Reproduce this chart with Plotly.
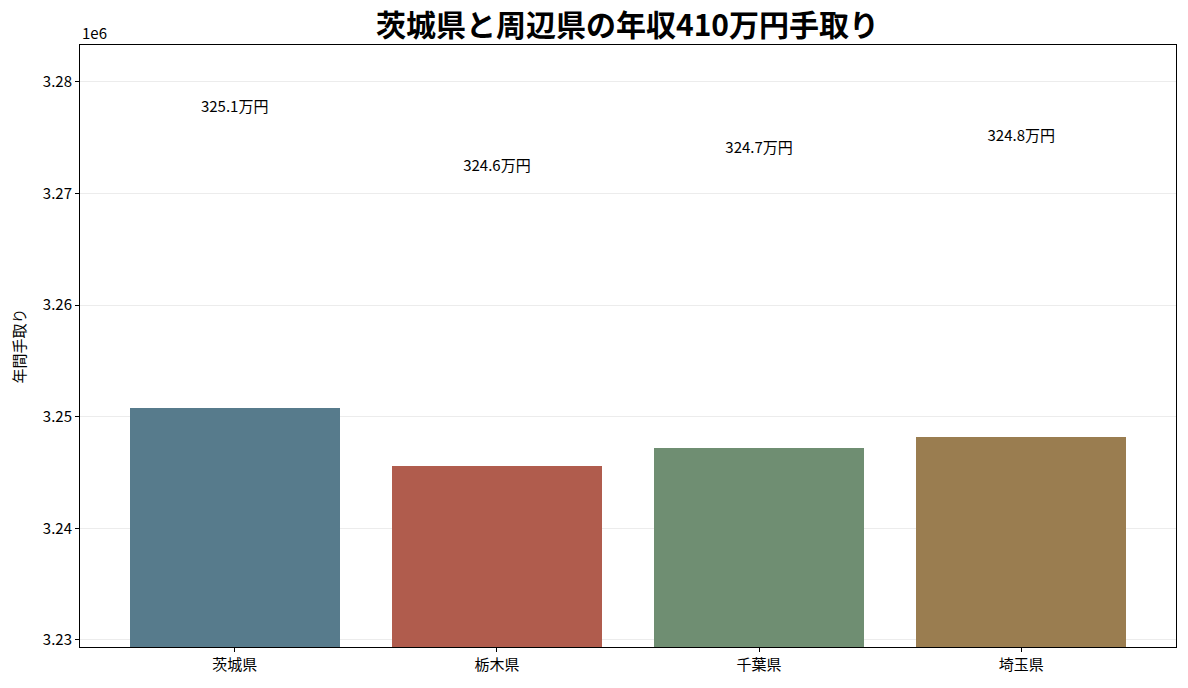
import plotly.graph_objects as go

# 茨城県と周辺県: 年収410万円の年間手取り（円）
prefectures = ["茨城県", "栃木県", "千葉県", "埼玉県"]
take_home = [3250800, 3245600, 3247200, 3248200]
bar_colors = ["#577B8C", "#B05C4D", "#6F8E72", "#9A7D50"]
y_ticks = [3230000, 3240000, 3250000, 3260000, 3270000, 3280000]

label_offset = 26800
font_family = "Noto Sans CJK JP, Noto Sans, sans-serif"

fig = go.Figure()
fig.add_trace(go.Bar(
    x=list(range(len(prefectures))),
    y=take_home,
    width=0.8,
    marker=dict(color=bar_colors, line=dict(width=0)),
    showlegend=False,
))
fig.add_trace(go.Scatter(
    x=list(range(len(prefectures))),
    y=[v + label_offset for v in take_home],
    mode="text",
    text=[f"{v / 10000:.1f}万円" for v in take_home],
    textposition="middle center",
    textfont=dict(size=15, color="black", family=font_family),
    showlegend=False,
    hoverinfo="skip",
))

axis_common = dict(
    showline=True, linecolor="black", linewidth=1, mirror=True,
    ticks="outside", ticklen=4, tickcolor="black",
    tickfont=dict(size=15, color="black", family=font_family),
    zeroline=False, automargin=False,
)

# the page body has an 8px margin, so the figure is a bit smaller than the window
fig.update_layout(
    width=1180, height=680,
    margin=dict(l=72, r=12, t=37, b=41),
    paper_bgcolor="white", plot_bgcolor="white",
    font=dict(family=font_family, color="black"),
    title=dict(
        text="<b>茨城県と周辺県の年収410万円手取り</b>",
        x=0.525, xanchor="center", y=0.975, yanchor="middle",
        font=dict(size=30, color="black", family=font_family),
    ),
    bargap=0,
)
fig.update_xaxes(
    **axis_common,
    range=[-0.59, 3.59],
    tickvals=list(range(len(prefectures))),
    ticktext=prefectures,
    showgrid=False,
)
fig.update_yaxes(
    **axis_common,
    range=[3229370, 3283310],
    tickvals=y_ticks,
    ticktext=[f"{v / 1e6:.2f}" for v in y_ticks],
    showgrid=True, gridcolor="rgba(200,200,200,0.35)", gridwidth=1,
    layer="above traces",
    title=dict(text="年間手取り", font=dict(size=15, family=font_family), standoff=14),
)
fig.add_annotation(
    text="1e6", xref="paper", yref="paper", x=0, y=1,
    xanchor="left", yanchor="bottom", showarrow=False,
    font=dict(size=15, color="black", family=font_family),
)

fig.write_html("out.html")
